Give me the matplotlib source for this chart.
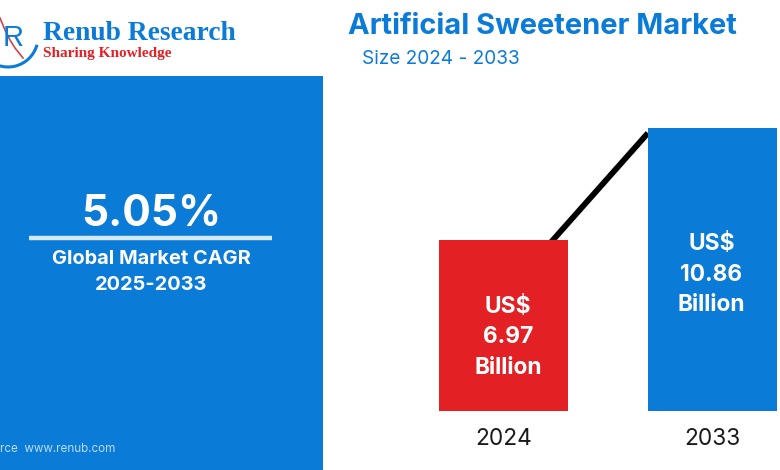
import matplotlib
matplotlib.use("Agg")
import matplotlib.pyplot as plt
from matplotlib.patches import Rectangle, Arc

years = ["2024", "2033"]
bar_heights = [6.97, 11.54]      # drawn heights
bar_labels = ["US$\n6.97\nBillion", "US$\n10.86\nBillion"]
bar_colors = ["#E32024", "#0B7BD8"]
trend_x = [0, 0.691]
trend_values = [4.7, 11.33]
cagr = "5.05%"
cagr_label = "Global Market CAGR\n2025-2033"
title = "Artificial Sweetener Market"
subtitle = "Size 2024 - 2033"
source = "rce  www.renub.com"

BLUE = "#0B7BD8"
W, H = 780, 470
plt.rcParams["font.family"] = ["Inter", "DejaVu Sans"]
fig = plt.figure(figsize=(W / 100, H / 100), dpi=100, facecolor="white")

bg = fig.add_axes([0, 0, 1, 1])
bg.set_xlim(0, W)
bg.set_ylim(H, 0)
bg.axis("off")

# Left panel
bg.add_patch(Rectangle((-2, 76), 325, 396, color=BLUE, lw=0))
bg.text(151, 214, cagr, color="white", fontsize=30.5, fontweight="bold", ha="center", va="center")
bg.plot([29, 272], [237.5, 237.5], color="#D5E8F8", lw=3.2, solid_capstyle="butt")
bg.text(151, 272, cagr_label, color="white", fontsize=14.4, fontweight="bold", ha="center",
        va="center", linespacing=1.55)
bg.text(0, 449, source, color="#BBDDF7", fontsize=8.4, ha="left", va="center")

# Logo
bg.add_patch(Arc((8, 37), 60, 60, theta1=15, theta2=140, color=BLUE, lw=2.2))
bg.plot([0, 5, 10, 15, 23], [18, 30, 40, 48, 58], color="#C9474E", lw=1.2)
bg.text(13, 38, "R", color=BLUE, fontsize=21, family="Liberation Sans", ha="center", va="center")
bg.text(43, 33.5, "Renub Research", color=BLUE, fontsize=19.8, family="Liberation Serif",
        fontweight="bold", ha="left", va="center")
bg.text(43, 54, "Sharing Knowledge", color="#E32024", fontsize=11, family="Liberation Serif",
        fontweight="bold", ha="left", va="center")

# Titles
bg.text(348, 27, title, color=BLUE, fontsize=20.9, fontweight="bold", ha="left", va="center")
bg.text(362, 59, subtitle, color=BLUE, fontsize=13.7, ha="left", va="center")

# Bars: axes spanning a pixel rectangle so categories 0,1 sit at 503.5 and 712.5
px_per_unit = 24.53
left, right = 400, 780
bottom_px, top_px = 411, 76
ax = fig.add_axes([left / W, 1 - bottom_px / H, (right - left) / W, (bottom_px - top_px) / H])
ax.patch.set_alpha(0)
step = 209.0
ax.set_xlim((left - 503.5) / step, (right - 503.5) / step)
ax.set_ylim(0, (bottom_px - top_px) / px_per_unit)
ax.plot(trend_x, trend_values, color="black", lw=4.2, zorder=1, solid_capstyle="butt")
ax.bar([0, 1], bar_heights, width=129 / step, color=bar_colors, zorder=2)
ax.text(0.022, 3.0, bar_labels[0], color="white", fontsize=16.4, fontweight="bold",
        ha="center", va="center", linespacing=1.5, zorder=3)
ax.text(0.995, 5.55, bar_labels[1], color="white", fontsize=16.4, fontweight="bold",
        ha="center", va="center", linespacing=1.5, zorder=3)
ax.set_xticks([0, 1], years)
ax.set_yticks([])
ax.tick_params(axis="x", length=0, pad=12, labelsize=16.3, labelcolor="#1a1a1a")
for s in ax.spines.values():
    s.set_visible(False)

fig.savefig("out.png", dpi=100)
